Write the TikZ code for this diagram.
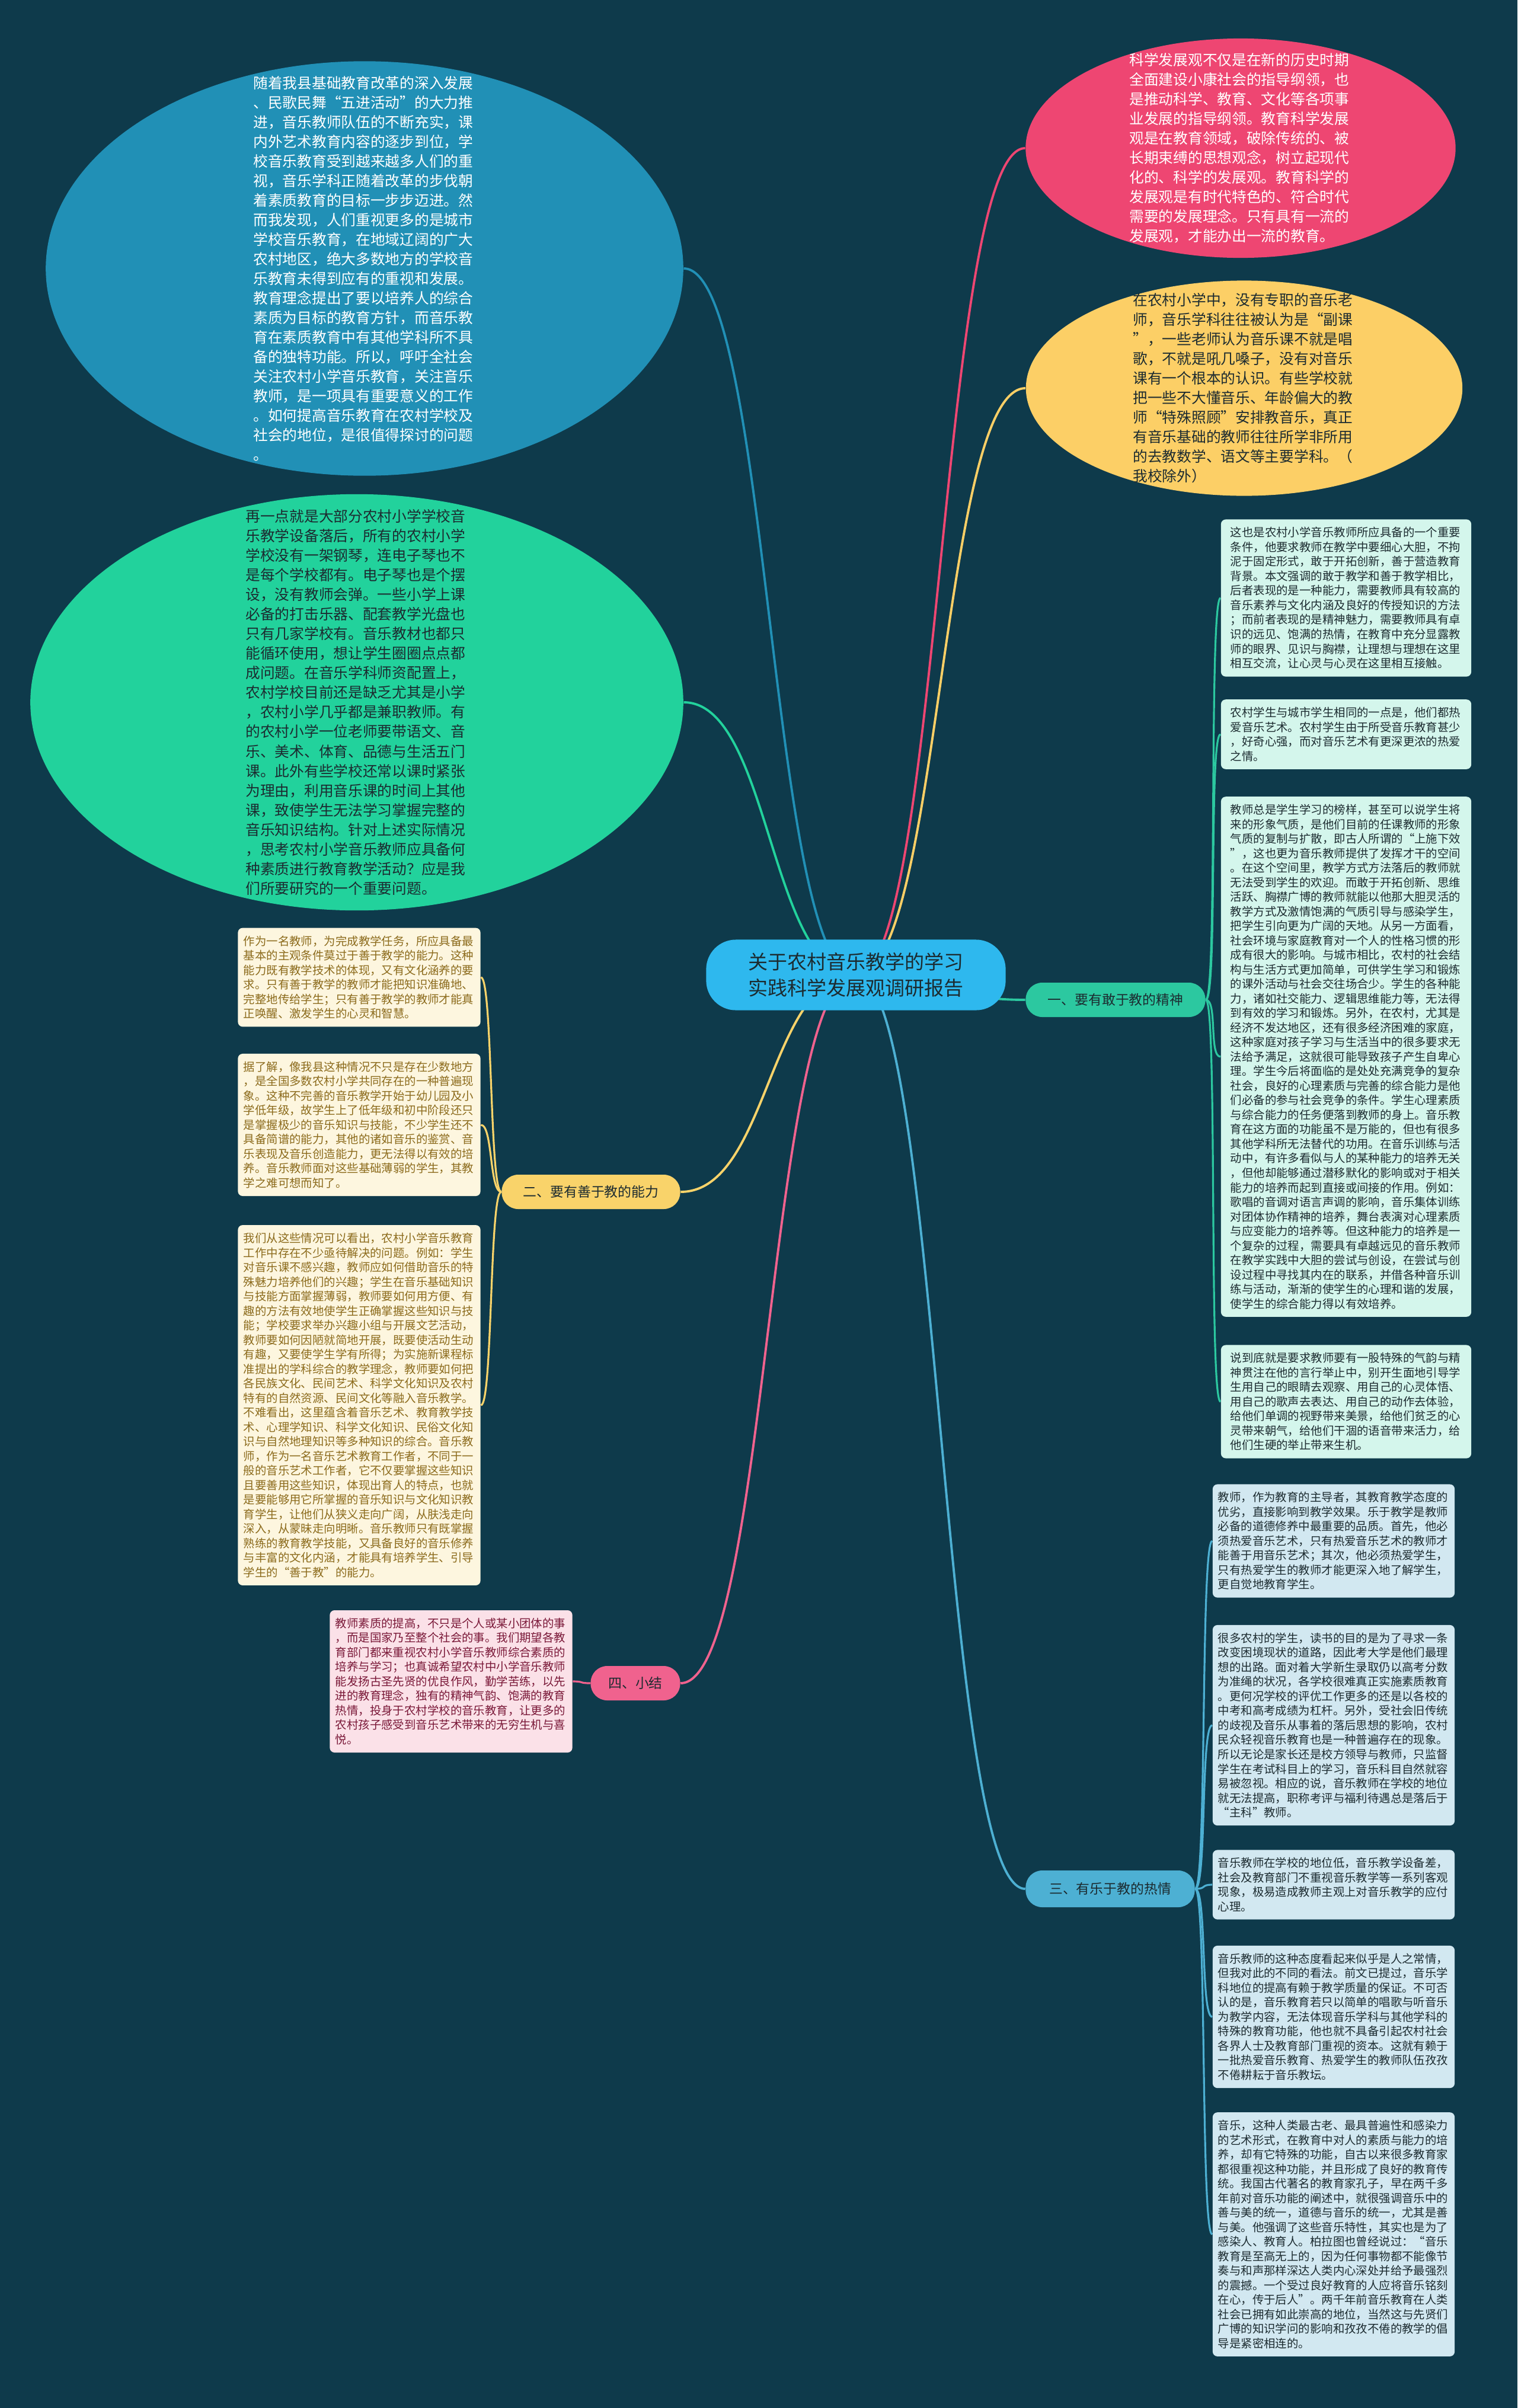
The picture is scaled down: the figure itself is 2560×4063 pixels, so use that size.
\documentclass[tikz,border=0pt]{standalone}
\usepackage{fontspec}
\newfontfamily\cjk{Noto Sans CJK SC}
\usetikzlibrary{shapes.geometric,backgrounds}
\definecolor{bgc}{HTML}{0E3A4B}
\definecolor{cblue}{HTML}{2190B6}
\definecolor{cgreen}{HTML}{22D29C}
\definecolor{cpink}{HTML}{EE4672}
\definecolor{cyell}{HTML}{FCCF66}
\definecolor{croot}{HTML}{2EB8EE}
\definecolor{tagone}{HTML}{2CC8A0}
\definecolor{tagtwo}{HTML}{F9D36A}
\definecolor{tagthr}{HTML}{4DB0D3}
\definecolor{tagfour}{HTML}{F0628E}
\definecolor{leafone}{HTML}{D4F6EC}
\definecolor{leaftwo}{HTML}{FDF6DF}
\definecolor{leafthr}{HTML}{D2E8F1}
\definecolor{leaffour}{HTML}{FBE1E8}
\definecolor{txttwo}{HTML}{8C6B1C}
\definecolor{txtfour}{HTML}{7A1838}
\definecolor{ink}{HTML}{1C2B30}
\begin{document}
\begin{tikzpicture}[x=0.01cm, y=-0.01cm,
  oval/.style={ellipse, inner sep=0pt},
  bubtxt/.style={align=left, text width=3.75cm, inner sep=0pt, font=\cjk\fontsize{7.03}{9.39}\selectfont},
  root/.style={fill=croot, rounded corners=0.5cm, align=center, text=ink, minimum width=5.05cm, minimum height=1.19cm, font=\cjk\fontsize{9.4}{12.5}\selectfont},
  tag/.style={rounded corners=0.28cm, minimum height=0.58cm, text=ink, inner xsep=0pt, font=\cjk\fontsize{6.5}{7}\selectfont},
  leaf/.style={rounded corners=0.08cm, align=left, text width=3.9cm, inner xsep=0.09cm, inner ysep=0.13cm, font=\cjk\fontsize{5.52}{6.97}\selectfont},
  lnk/.style={line width=1.1pt},
  sub/.style={line width=0.9pt}
]
\useasboundingbox (0,0) rectangle (2560,4063);

% bubbles
\node[oval, fill=cblue, minimum width=10.75cm, minimum height=6.99cm] (ov1) at (615,453) {};
\node[bubtxt, text=white] (ov1t) at (ov1) {随着我县基础教育改革的深入发展\\、民歌民舞“五进活动”的大力推\\进，音乐教师队伍的不断充实，课\\内外艺术教育内容的逐步到位，学\\校音乐教育受到越来越多人们的重\\视，音乐学科正随着改革的步伐朝\\着素质教育的目标一步步迈进。然\\而我发现，人们重视更多的是城市\\学校音乐教育，在地域辽阔的广大\\农村地区，绝大多数地方的学校音\\乐教育未得到应有的重视和发展。\\教育理念提出了要以培养人的综合\\素质为目标的教育方针，而音乐教\\育在素质教育中有其他学科所不具\\备的独特功能。所以，呼吁全社会\\关注农村小学音乐教育，关注音乐\\教师，是一项具有重要意义的工作\\。如何提高音乐教育在农村学校及\\社会的地位，是很值得探讨的问题\\。};
\node[oval, fill=cgreen, minimum width=11.01cm, minimum height=7.02cm] (ov2) at (602,1185) {};
\node[bubtxt, text=ink] (ov2t) at (ov2) {再一点就是大部分农村小学学校音\\乐教学设备落后，所有的农村小学\\学校没有一架钢琴，连电子琴也不\\是每个学校都有。电子琴也是个摆\\设，没有教师会弹。一些小学上课\\必备的打击乐器、配套教学光盘也\\只有几家学校有。音乐教材也都只\\能循环使用，想让学生圈圈点点都\\成问题。在音乐学科师资配置上，\\农村学校目前还是缺乏尤其是小学\\，农村小学几乎都是兼职教师。有\\的农村小学一位老师要带语文、音\\乐、美术、体育、品德与生活五门\\课。此外有些学校还常以课时紧张\\为理由，利用音乐课的时间上其他\\课，致使学生无法学习掌握完整的\\音乐知识结构。针对上述实际情况\\，思考农村小学音乐教师应具备何\\种素质进行教育教学活动？应是我\\们所要研究的一个重要问题。};
\node[oval, fill=cpink, minimum width=7.25cm, minimum height=3.7cm] (ov3) at (2093,250) {};
\node[bubtxt, text=white] (ov3t) at (ov3) {科学发展观不仅是在新的历史时期\\全面建设小康社会的指导纲领，也\\是推动科学、教育、文化等各项事\\业发展的指导纲领。教育科学发展\\观是在教育领域，破除传统的、被\\长期束缚的思想观念，树立起现代\\化的、科学的发展观。教育科学的\\发展观是有时代特色的、符合时代\\需要的发展理念。只有具有一流的\\发展观，才能办出一流的教育。};
\node[oval, fill=cyell, minimum width=7.36cm, minimum height=3.63cm] (ov4) at (2099,655) {};
\node[bubtxt, text=ink] (ov4t) at (ov4) {在农村小学中，没有专职的音乐老\\师，音乐学科往往被认为是“副课\\”，一些老师认为音乐课不就是唱\\歌，不就是吼几嗓子，没有对音乐\\课有一个根本的认识。有些学校就\\把一些不大懂音乐、年龄偏大的教\\师“特殊照顾”安排教音乐，真正\\有音乐基础的教师往往所学非所用\\的去教数学、语文等主要学科。（\\我校除外）};

% centre and branches
\node[root] (root) at (1444,1645) {关于农村音乐教学的学习\\实践科学发展观调研报告};
\node[tag, fill=tagone, minimum width=3.03cm] (br1) at (1882,1687) {一、要有敢于教的精神};
\node[tag, fill=tagtwo, minimum width=3.01cm] (br2) at (997,2011) {二、要有善于教的能力};
\node[tag, fill=tagthr, minimum width=2.85cm, minimum height=0.62cm] (br3) at (1873,3187) {三、有乐于教的热情};
\node[tag, fill=tagfour, minimum width=1.51cm] (br4) at (1072,2840) {四、小结};

% leaves of branch one
\node[leaf, fill=leafone, text=ink, minimum width=4.22cm] (r1) at (2271,1009) {这也是农村小学音乐教师所应具备的一个重要\\条件，他要求教师在教学中要细心大胆，不拘\\泥于固定形式，敢于开拓创新，善于营造教育\\背景。本文强调的敢于教学和善于教学相比，\\后者表现的是一种能力，需要教师具有较高的\\音乐素养与文化内涵及良好的传授知识的方法\\；而前者表现的是精神魅力，需要教师具有卓\\识的远见、饱满的热情，在教育中充分显露教\\师的眼界、见识与胸襟，让理想与理想在这里\\相互交流，让心灵与心灵在这里相互接触。};
\node[leaf, fill=leafone, text=ink, minimum width=4.22cm] (r2) at (2271,1239) {农村学生与城市学生相同的一点是，他们都热\\爱音乐艺术。农村学生由于所受音乐教育甚少\\，好奇心强，而对音乐艺术有更深更浓的热爱\\之情。};
\node[leaf, fill=leafone, text=ink, minimum width=4.22cm] (r3) at (2271,1783) {教师总是学生学习的榜样，甚至可以说学生将\\来的形象气质，是他们目前的任课教师的形象\\气质的复制与扩散，即古人所谓的“上施下效\\”，这也更为音乐教师提供了发挥才干的空间\\。在这个空间里，教学方式方法落后的教师就\\无法受到学生的欢迎。而敢于开拓创新、思维\\活跃、胸襟广博的教师就能以他那大胆灵活的\\教学方式及激情饱满的气质引导与感染学生，\\把学生引向更为广阔的天地。从另一方面看，\\社会环境与家庭教育对一个人的性格习惯的形\\成有很大的影响。与城市相比，农村的社会结\\构与生活方式更加简单，可供学生学习和锻炼\\的课外活动与社会交往场合少。学生的各种能\\力，诸如社交能力、逻辑思维能力等，无法得\\到有效的学习和锻炼。另外，在农村，尤其是\\经济不发达地区，还有很多经济困难的家庭，\\这种家庭对孩子学习与生活当中的很多要求无\\法给予满足，这就很可能导致孩子产生自卑心\\理。学生今后将面临的是处处充满竞争的复杂\\社会，良好的心理素质与完善的综合能力是他\\们必备的参与社会竞争的条件。学生心理素质\\与综合能力的任务便落到教师的身上。音乐教\\育在这方面的功能虽不是万能的，但也有很多\\其他学科所无法替代的功用。在音乐训练与活\\动中，有许多看似与人的某种能力的培养无关\\，但他却能够通过潜移默化的影响或对于相关\\能力的培养而起到直接或间接的作用。例如：\\歌唱的音调对语言声调的影响，音乐集体训练\\对团体协作精神的培养，舞台表演对心理素质\\与应变能力的培养等。但这种能力的培养是一\\个复杂的过程，需要具有卓越远见的音乐教师\\在教学实践中大胆的尝试与创设，在尝试与创\\设过程中寻找其内在的联系，并借各种音乐训\\练与活动，渐渐的使学生的心理和谐的发展，\\使学生的综合能力得以有效培养。};
\node[leaf, fill=leafone, text=ink, minimum width=4.22cm] (r4) at (2271,2365) {说到底就是要求教师要有一股特殊的气韵与精\\神贯注在他的言行举止中，别开生面地引导学\\生用自己的眼睛去观察、用自己的心灵体悟、\\用自己的歌声去表达、用自己的动作去体验，\\给他们单调的视野带来美景，给他们贫乏的心\\灵带来朝气，给他们干涸的语音带来活力，给\\他们生硬的举止带来生机。};

% leaves of branch two
\node[leaf, fill=leaftwo, text=txttwo, minimum width=4.09cm] (l1) at (606,1649) {作为一名教师，为完成教学任务，所应具备最\\基本的主观条件莫过于善于教学的能力。这种\\能力既有教学技术的体现，又有文化涵养的要\\求。只有善于教学的教师才能把知识准确地、\\完整地传给学生；只有善于教学的教师才能真\\正唤醒、激发学生的心灵和智慧。};
\node[leaf, fill=leaftwo, text=txttwo, minimum width=4.09cm] (l2) at (606,1898) {据了解，像我县这种情况不只是存在少数地方\\，是全国多数农村小学共同存在的一种普遍现\\象。这种不完善的音乐教学开始于幼儿园及小\\学低年级，故学生上了低年级和初中阶段还只\\是掌握极少的音乐知识与技能，不少学生还不\\具备简谱的能力，其他的诸如音乐的鉴赏、音\\乐表现及音乐创造能力，更无法得以有效的培\\养。音乐教师面对这些基础薄弱的学生，其教\\学之难可想而知了。};
\node[leaf, fill=leaftwo, text=txttwo, minimum width=4.09cm] (l3) at (606,2371) {我们从这些情况可以看出，农村小学音乐教育\\工作中存在不少亟待解决的问题。例如：学生\\对音乐课不感兴趣，教师应如何借助音乐的特\\殊魅力培养他们的兴趣；学生在音乐基础知识\\与技能方面掌握薄弱，教师要如何用方便、有\\趣的方法有效地使学生正确掌握这些知识与技\\能；学校要求举办兴趣小组与开展文艺活动，\\教师要如何因陋就简地开展，既要使活动生动\\有趣，又要使学生学有所得；为实施新课程标\\准提出的学科综合的教学理念，教师要如何把\\各民族文化、民间艺术、科学文化知识及农村\\特有的自然资源、民间文化等融入音乐教学。\\不难看出，这里蕴含着音乐艺术、教育教学技\\术、心理学知识、科学文化知识、民俗文化知\\识与自然地理知识等多种知识的综合。音乐教\\师，作为一名音乐艺术教育工作者，不同于一\\般的音乐艺术工作者，它不仅要掌握这些知识\\且要善用这些知识，体现出育人的特点，也就\\是要能够用它所掌握的音乐知识与文化知识教\\育学生，让他们从狭义走向广阔，从肤浅走向\\深入，从蒙昧走向明晰。音乐教师只有既掌握\\熟练的教育教学技能，又具备良好的音乐修养\\与丰富的文化内涵，才能具有培养学生、引导\\学生的“善于教”的能力。};

% leaf of branch four
\node[leaf, fill=leaffour, text=txtfour, minimum width=4.09cm] (l4) at (761,2837) {教师素质的提高，不只是个人或某小团体的事\\，而是国家乃至整个社会的事。我们期望各教\\育部门都来重视农村小学音乐教师综合素质的\\培养与学习；也真诚希望农村中小学音乐教师\\能发扬古圣先贤的优良作风，勤学苦练，以先\\进的教育理念，独有的精神气韵、饱满的教育\\热情，投身于农村学校的音乐教育，让更多的\\农村孩子感受到音乐艺术带来的无穷生机与喜\\悦。};

% leaves of branch three
\node[leaf, fill=leafthr, text=ink, minimum width=4.07cm] (b1) at (2250,2600) {教师，作为教育的主导者，其教育教学态度的\\优劣，直接影响到教学效果。乐于教学是教师\\必备的道德修养中最重要的品质。首先，他必\\须热爱音乐艺术，只有热爱音乐艺术的教师才\\能善于用音乐艺术；其次，他必须热爱学生，\\只有热爱学生的教师才能更深入地了解学生，\\更自觉地教育学生。};
\node[leaf, fill=leafthr, text=ink, minimum width=4.07cm] (b2) at (2250,2911) {很多农村的学生，读书的目的是为了寻求一条\\改变困境现状的道路，因此考大学是他们最理\\想的出路。面对着大学新生录取仍以高考分数\\为准绳的状况，各学校很难真正实施素质教育\\。更何况学校的评优工作更多的还是以各校的\\中考和高考成绩为杠杆。另外，受社会旧传统\\的歧视及音乐从事着的落后思想的影响，农村\\民众轻视音乐教育也是一种普遍存在的现象。\\所以无论是家长还是校方领导与教师，只监督\\学生在考试科目上的学习，音乐科目自然就容\\易被忽视。相应的说，音乐教师在学校的地位\\就无法提高，职称考评与福利待遇总是落后于\\“主科”教师。};
\node[leaf, fill=leafthr, text=ink, minimum width=4.07cm] (b3) at (2250,3180) {音乐教师在学校的地位低，音乐教学设备差，\\社会及教育部门不重视音乐教学等一系列客观\\现象，极易造成教师主观上对音乐教学的应付\\心理。};
\node[leaf, fill=leafthr, text=ink, minimum width=4.07cm] (b4) at (2250,3403) {音乐教师的这种态度看起来似乎是人之常情，\\但我对此的不同的看法。前文已提过，音乐学\\科地位的提高有赖于教学质量的保证。不可否\\认的是，音乐教育若只以简单的唱歌与听音乐\\为教学内容，无法体现音乐学科与其他学科的\\特殊的教育功能，他也就不具备引起农村社会\\各界人士及教育部门重视的资本。这就有赖于\\一批热爱音乐教育、热爱学生的教师队伍孜孜\\不倦耕耘于音乐教坛。};
\node[leaf, fill=leafthr, text=ink, minimum width=4.07cm] (b5) at (2250,3770) {音乐，这种人类最古老、最具普遍性和感染力\\的艺术形式，在教育中对人的素质与能力的培\\养，却有它特殊的功能，自古以来很多教育家\\都很重视这种功能，并且形成了良好的教育传\\统。我国古代著名的教育家孔子，早在两千多\\年前对音乐功能的阐述中，就很强调音乐中的\\善与美的统一，道德与音乐的统一，尤其是善\\与美。他强调了这些音乐特性，其实也是为了\\感染人、教育人。柏拉图也曾经说过：“音乐\\教育是至高无上的，因为任何事物都不能像节\\奏与和声那样深达人类内心深处并给予最强烈\\的震撼。一个受过良好教育的人应将音乐铭刻\\在心，传于后人”。两千年前音乐教育在人类\\社会已拥有如此崇高的地位，当然这与先贤们\\广博的知识学问的影响和孜孜不倦的教学的倡\\导是紧密相连的。};

\begin{scope}[on background layer]
\fill[bgc] (0,0) rectangle (2560,4063);
% centre to bubbles and branches
\draw[lnk, cblue] (root.center) .. controls +(-146,0) and +(146,0) .. (ov1.east);
\draw[lnk, cgreen] (root.center) .. controls +(-146,0) and +(146,0) .. (ov2.east);
\draw[lnk, cpink] (root.center) .. controls +(143,0) and +(-143,0) .. (ov3.west);
\draw[lnk, cyell] (root.center) .. controls +(143,0) and +(-143,0) .. (ov4.west);
\draw[lnk, tagone] (root.center) .. controls +(143,0) and +(-143,0) .. (br1.west);
\draw[lnk, tagtwo] (root.center) .. controls +(-148,0) and +(148,0) .. (br2.east);
\draw[lnk, tagthr] (root.center) .. controls +(143,0) and +(-143,0) .. (br3.west);
\draw[lnk, tagfour] (root.center) .. controls +(-148,0) and +(148,0) .. (br4.east);
% branch to leaves
\foreach \n in {r1,r2,r3,r4}
  \draw[sub, tagone] (br1.east) .. controls +(20,0) and +(-20,0) .. (\n.west);
\foreach \n in {l1,l2,l3}
  \draw[sub, tagtwo] (br2.west) .. controls +(-20,0) and +(20,0) .. (\n.east);
\foreach \n in {b1,b2,b3,b4,b5}
  \draw[sub, tagthr] (br3.east) .. controls +(20,0) and +(-20,0) .. (\n.west);
\draw[sub, tagfour] (br4.west) .. controls +(-20,0) and +(20,0) .. (l4.east);
\end{scope}
\end{tikzpicture}
\end{document}
